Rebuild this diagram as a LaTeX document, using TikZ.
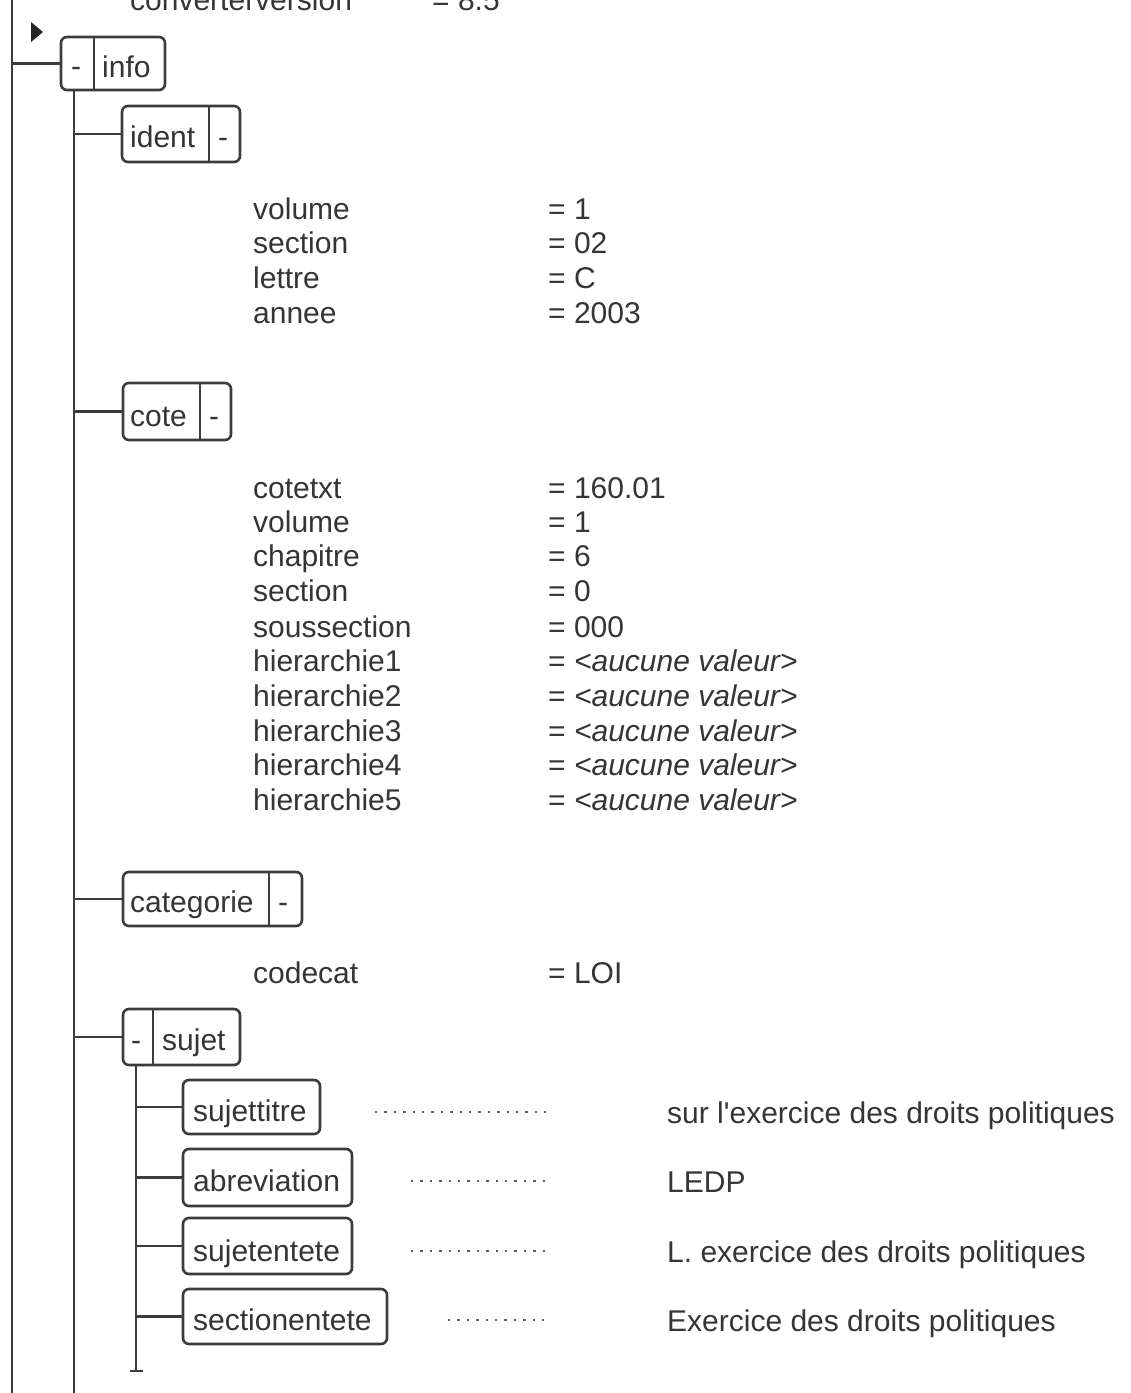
\documentclass[tikz,border=0pt]{standalone}
\usepackage{fontspec}
\setmainfont{Liberation Sans}[Ligatures=TeXOff]
\usetikzlibrary{calc}
\definecolor{linec}{HTML}{3C3C3C}
\definecolor{txtc}{HTML}{353535}
\newcommand{\fsz}{\fontsize{30}{36}\selectfont}
\tikzset{
  tbox/.style={draw=linec, line width=2.6pt, rounded corners=6pt, inner sep=0pt},
  conn/.style={draw=linec, line width=2.8pt},
  lbl/.style={anchor=base west, inner sep=0pt, text=txtc, font=\fsz},
  minus/.style={anchor=base, inner sep=0pt, text=txtc, font=\fsz},
  dotline/.style={draw=txtc!80, line width=2.4pt, dash pattern=on 2.4pt off 7pt},
}
\begin{document}
\begin{tikzpicture}[x=1pt,y=-1pt]
\clip (0,0) rectangle (1131,1393);
\fill[white] (0,0) rectangle (1131,1393);

% trunks
\coordinate (t0top) at (12,0);
\coordinate (t0bot) at (12,1393);
\draw[conn] (t0top) -- (t0bot);

% top clipped attribute (cut off at the top edge, as in the reference)
\node[lbl] (convname) at (130,10) {converterversion};
\node[lbl] (convval) at (432,10) {= 8.5};

% triangle marker
\fill[black!85] (31,22) -- (43,32) -- (31,42) -- cycle;

% ---- info
\node[tbox, minimum width=104, minimum height=53] (info) at (113,63.5) {};
\draw[linec, line width=2.6pt] (94,37) -- (94,90);
\node[minus] (infom) at (76,76) {-};
\node[lbl] (infot) at (102,77) {info};
\draw[conn] (info.west) -- (info.west -| t0top);
\coordinate (i0top) at (74,90);
\coordinate (i0bot) at (74,1393);
\draw[conn] (i0top) -- (i0bot);

% ---- ident
\node[tbox, minimum width=118, minimum height=56] (ident) at (181,134) {};
\draw[linec, line width=2.6pt] (209,106) -- (209,162);
\node[lbl] (identt) at (130,147) {ident};
\node[minus] (identm) at (223,147) {-};
\draw[conn] (ident.west) -- (ident.west -| i0top);
\foreach \y/\nm/\v [count=\i] in {219/volume/1, 253/section/02, 288/lettre/C, 323/annee/2003}{
  \node[lbl] (idn\i) at (253,\y) {\nm};
  \node[lbl] (idv\i) at (548,\y) {= \v};
}

% ---- cote
\node[tbox, minimum width=108, minimum height=57] (cote) at (177,411.5) {};
\draw[linec, line width=2.6pt] (200,383) -- (200,440);
\node[lbl] (cotet) at (130,426) {cote};
\node[minus] (cotem) at (214,426) {-};
\draw[conn] (cote.west) -- (cote.west -| i0top);
\foreach \y/\nm/\v [count=\i] in {498/cotetxt/160.01, 532/volume/1, 566/chapitre/6, 601/section/0, 637/soussection/000,
  671/hierarchie1/{\textit{<aucune valeur>}}, 706/hierarchie2/{\textit{<aucune valeur>}}, 741/hierarchie3/{\textit{<aucune valeur>}},
  775/hierarchie4/{\textit{<aucune valeur>}}, 810/hierarchie5/{\textit{<aucune valeur>}}}{
  \node[lbl] (ctn\i) at (253,\y) {\nm};
  \node[lbl] (ctv\i) at (548,\y) {= \v};
}

% ---- categorie
\node[tbox, minimum width=179, minimum height=54] (categorie) at (212.5,899) {};
\draw[linec, line width=2.6pt] (269,872) -- (269,926);
\node[lbl] (categoriet) at (130,912) {categorie};
\node[minus] (categoriem) at (283,912) {-};
\draw[conn] (categorie.west) -- (categorie.west -| i0top);
\node[lbl] (codecatn) at (253,983) {codecat};
\node[lbl] (codecatv) at (548,983) {= LOI};

% ---- sujet
\node[tbox, minimum width=117, minimum height=56] (sujet) at (181.5,1037) {};
\draw[linec, line width=2.6pt] (153,1009) -- (153,1065);
\node[minus] (sujetm) at (136,1050) {-};
\node[lbl] (sujett) at (162,1050) {sujet};
\draw[conn] (sujet.west) -- (sujet.west -| i0top);
\coordinate (s0top) at (136,1065);
\coordinate (s0bot) at (136,1372);
\draw[conn] (s0top) -- (s0bot);
\coordinate (tickl) at (130,1371);
\coordinate (tickr) at (143,1371);
\draw[conn] (tickl) -- (tickr);

% children of sujet
\node[tbox, minimum width=137, minimum height=54] (sujettitre) at (251.5,1107) {};
\node[lbl] (sujettitret) at (193,1121) {sujettitre};
\draw[conn] (sujettitre.west) -- (sujettitre.west -| s0top);
\coordinate (d1a) at (375,1112); \coordinate (d1b) at (546,1112);
\draw[dotline] (d1a) -- (d1b);
\node[lbl] (v1) at (667,1123) {sur l'exercice des droits politiques};

\node[tbox, minimum width=169, minimum height=57] (abreviation) at (267.5,1177.5) {};
\node[lbl] (abreviationt) at (193,1191) {abreviation};
\draw[conn] (abreviation.west) -- (abreviation.west -| s0top);
\coordinate (d2a) at (411,1181); \coordinate (d2b) at (546,1181);
\draw[dotline] (d2a) -- (d2b);
\node[lbl] (v2) at (667,1192) {LEDP};

\node[tbox, minimum width=169, minimum height=56] (sujetentete) at (267.5,1246) {};
\node[lbl] (sujetentetet) at (193,1261) {sujetentete};
\draw[conn] (sujetentete.west) -- (sujetentete.west -| s0top);
\coordinate (d3a) at (411,1251); \coordinate (d3b) at (546,1251);
\draw[dotline] (d3a) -- (d3b);
\node[lbl] (v3) at (667,1262) {L. exercice des droits politiques};

\node[tbox, minimum width=204, minimum height=55] (sectionentete) at (285,1316.5) {};
\node[lbl] (sectionentetet) at (193,1330) {sectionentete};
\draw[conn] (sectionentete.west) -- (sectionentete.west -| s0top);
\coordinate (d4a) at (448,1320); \coordinate (d4b) at (546,1320);
\draw[dotline] (d4a) -- (d4b);
\node[lbl] (v4) at (667,1331) {Exercice des droits politiques};
\end{tikzpicture}
\end{document}
